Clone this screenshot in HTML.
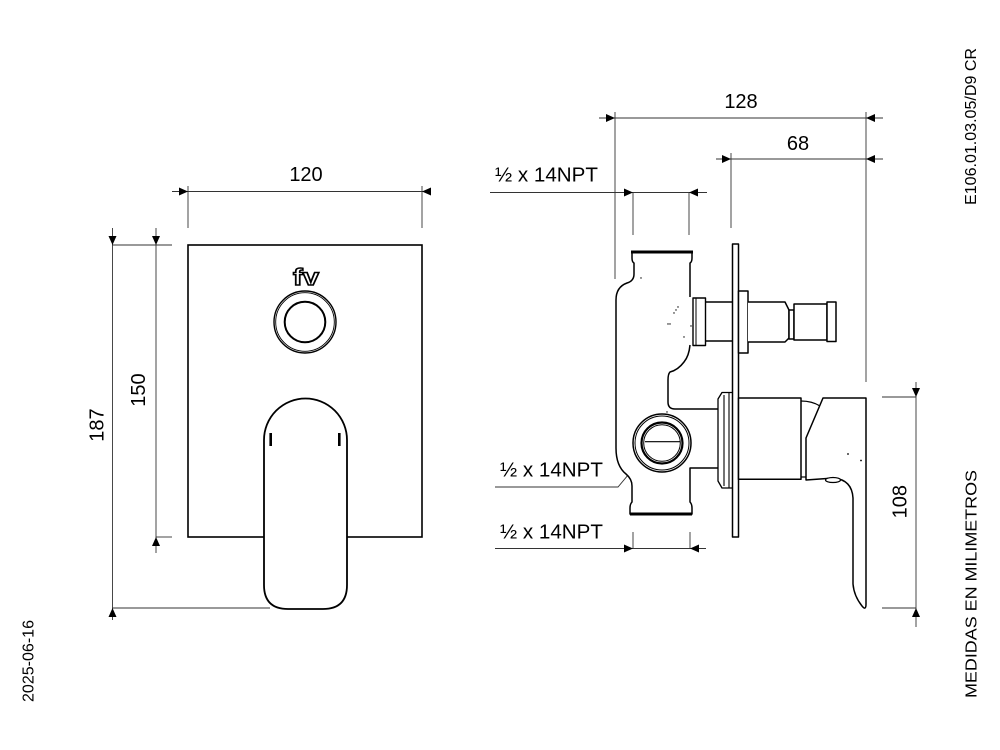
<!DOCTYPE html>
<html><head><meta charset="utf-8"><style>
html,body{margin:0;padding:0;background:#fff;}
svg{display:block;}
text{font-family:"Liberation Sans",Arial,sans-serif;fill:#000;}
</style></head><body>
<svg width="1000" height="750" viewBox="0 0 1000 750" xmlns="http://www.w3.org/2000/svg">
<rect width="1000" height="750" fill="#fff"/>

<!-- ============ DIMENSION LINES (thin) ============ -->
<g stroke="#333" stroke-width="0.9" fill="none">
  <!-- 120 -->
  <line x1="172" y1="191.5" x2="430" y2="191.5"/>
  <line x1="188" y1="186" x2="188" y2="228"/>
  <line x1="422" y1="186" x2="422" y2="228"/>
  <!-- 187 -->
  <line x1="112.5" y1="228" x2="112.5" y2="620"/>
  <line x1="112" y1="245" x2="172" y2="245"/>
  <line x1="112" y1="608" x2="270" y2="608"/>
  <!-- 150 -->
  <line x1="156" y1="228" x2="156" y2="553"/>
  <line x1="156" y1="537" x2="172" y2="537"/>
  <!-- 128 -->
  <line x1="599" y1="118" x2="883" y2="118"/>
  <line x1="615" y1="112" x2="615" y2="279"/>
  <line x1="866" y1="112" x2="866" y2="382"/>
  <!-- 68 -->
  <line x1="716" y1="159" x2="883" y2="159"/>
  <line x1="731" y1="153" x2="731" y2="228"/>
  <!-- NPT top -->
  <line x1="490" y1="192.5" x2="707" y2="192.5"/>
  <line x1="633" y1="192" x2="633" y2="235"/>
  <line x1="689" y1="192" x2="689" y2="235"/>
  <!-- NPT middle leader -->
  <polyline points="495,487 618,487 639,462"/>
  <!-- NPT bottom -->
  <line x1="495" y1="548.5" x2="706" y2="548.5"/>
  <line x1="633" y1="532" x2="633" y2="548"/>
  <line x1="690" y1="532" x2="690" y2="548"/>
  <!-- 108 -->
  <line x1="916" y1="382" x2="916" y2="627"/>
  <line x1="882" y1="397" x2="916" y2="397"/>
  <line x1="882" y1="608" x2="916" y2="608"/>
</g>

<!-- arrowheads -->
<g fill="#000" stroke="none">
  <!-- 120 -->
  <polygon points="188,191.5 179,187.5 179,195.5"/>
  <polygon points="422,191.5 431,187.5 431,195.5"/>
  <!-- 187 -->
  <polygon points="112.5,245 108.5,236 116.5,236"/>
  <polygon points="112.5,608 108.5,617 116.5,617"/>
  <!-- 150 -->
  <polygon points="156,245 152,236 160,236"/>
  <polygon points="156,537 152,546 160,546"/>
  <!-- 128 -->
  <polygon points="615,118 606,114 606,122"/>
  <polygon points="866,118 875,114 875,122"/>
  <!-- 68 -->
  <polygon points="731,159 722,155 722,163"/>
  <polygon points="866,159 875,155 875,163"/>
  <!-- NPT top -->
  <polygon points="633,192.5 624,188.5 624,196.5"/>
  <polygon points="689,192.5 698,188.5 698,196.5"/>
  <!-- NPT bottom -->
  <polygon points="633,548.5 624,544.5 624,552.5"/>
  <polygon points="690,548.5 699,544.5 699,552.5"/>
  <!-- leader arrow -->
  <polygon points="643,457 632,463 638,469"/>
  <!-- 108 -->
  <polygon points="916,397 912,388 920,388"/>
  <polygon points="916,608 912,617 920,617"/>
</g>

<!-- ============ LEFT (FRONT) VIEW ============ -->
<g stroke="#000" fill="none">
  <rect x="188" y="245" width="234" height="292" stroke-width="1.6" fill="#fff"/>
  <!-- ring -->
  <circle cx="305" cy="322" r="31" stroke-width="1.4"/>
  <circle cx="305" cy="322" r="29.3" stroke-width="0.9"/>
  <circle cx="305" cy="322" r="20.3" stroke-width="2"/>
  <!-- handle -->
  <path d="M264,440 A41.5,41.5 0 0 1 347,440 L347,585 Q347,609 323,609 L288,609 Q264,609 264,585 Z" stroke-width="1.8" fill="#fff"/>
  <line x1="270.7" y1="433" x2="270.7" y2="446" stroke-width="2.6"/>
  <line x1="339.3" y1="433" x2="339.3" y2="446" stroke-width="2.6"/>
</g>
<text x="306" y="285" font-size="23" font-weight="bold" text-anchor="middle" textLength="26" lengthAdjust="spacingAndGlyphs" style="fill:#fff;stroke:#000;stroke-width:1.4">fv</text>

<!-- ============ RIGHT (SIDE) VIEW ============ -->
<g stroke="#000" fill="none" stroke-width="1.5" stroke-linejoin="round">
  <!-- body -->
  <path d="M632,252 L632,258 Q632,262 634,263 L634,274 Q634,281 627,283 Q616,287 616,300 L616,448 Q616,466 626,474 Q632,479 632,486 L632,502 Q630,504 630,508 L630,514 L692,514 L692,508 Q692,504 690,502 L690,468 L718,468" fill="#fff"/>
  <path d="M692,252 L692,258 Q692,262 690,263 L690,297"/>
  <path d="M690,345 Q689,356 684,362 Q678,370 670,372 Q668,374 668,380 L668,402 Q668,409 675,409 L718,409"/>
  <line x1="631" y1="252" x2="693" y2="252" stroke-width="3"/>
  <line x1="630" y1="514" x2="692" y2="514" stroke-width="3"/>
  <!-- socket -->
  <rect x="693" y="298" width="12.5" height="47.5" stroke-width="1.4" fill="#fff"/>
  <line x1="696" y1="298" x2="696" y2="345.5" stroke-width="1"/>
  <!-- stem to plate -->
  <path d="M705.5,302 L732.5,302 M705.5,341 L732.5,341"/>
  <!-- outlet ring -->
  <circle cx="662" cy="443" r="29" fill="#fff"/>
  <circle cx="662" cy="443" r="27" stroke-width="1"/>
  <circle cx="662" cy="443" r="20.5" stroke-width="2.2"/>
  <circle cx="662" cy="443" r="18.3" stroke-width="1"/>
  <line x1="645" y1="441.7" x2="680" y2="441.7" stroke-width="1.2"/>
  <!-- bonnet -->
  <path d="M733,392.5 L722,392.5 L718,399 L718,481 L722,488 L733,488" stroke-width="1.3" fill="#fff"/>
  <line x1="724" y1="395" x2="724" y2="486" stroke-width="1.1"/>
  <line x1="729" y1="392.5" x2="729" y2="488" stroke-width="1.1"/>
  <!-- plate -->
  <rect x="732.5" y="244" width="6" height="293" stroke-width="1.5" fill="#fff"/>
  <!-- upper flange & stem -->
  <rect x="738.5" y="291" width="9.5" height="62" fill="#fff"/>
  <path d="M748,302 L785,302 L789,310 L789,338 L785,342 L748,342" fill="#fff"/>
  <rect x="789" y="310" width="5" height="29" fill="#fff"/>
  <rect x="794" y="304" width="33" height="36" fill="#fff"/>
  <rect x="827" y="302" width="9" height="39.5" fill="#fff"/>
  <!-- lever body -->
  <rect x="738.5" y="398" width="62.5" height="81.3" fill="#fff"/>
  <path d="M801,401 Q812,401 820,406" stroke-width="1.3"/>
  <path d="M801,477 L806,477" stroke-width="1.2"/>
  <!-- handle -->
  <path d="M823,398 L866,398 L866,604 Q866,611 862,606 Q854,596 853,584 L853,498 Q852,480 834,478 L806,480 L806,438 Z" fill="#fff"/>
  <ellipse cx="833" cy="480" rx="7.5" ry="2.5" stroke-width="1.2" fill="#fff"/>
</g>
<!-- specks -->
<g fill="#000">
  <circle cx="848" cy="454" r="0.9"/>
  <circle cx="861" cy="460.5" r="0.9"/>
  <circle cx="641" cy="278" r="0.7"/>
  <circle cx="678" cy="307" r="0.7"/>
  <circle cx="676" cy="310" r="0.7"/>
  <circle cx="674" cy="313" r="0.7"/>
  <circle cx="668" cy="324" r="0.7"/>
  <circle cx="670" cy="324" r="0.7"/>
  <circle cx="691" cy="326" r="0.7"/>
  <circle cx="684" cy="337" r="0.7"/>
  <circle cx="667" cy="412" r="0.7"/>
</g>

<!-- ============ TEXT ============ -->
<g font-size="20">
  <text x="306" y="181" text-anchor="middle">120</text>
  <text x="741" y="108" text-anchor="middle">128</text>
  <text x="798" y="150" text-anchor="middle">68</text>
  <text x="495" y="181.5" textLength="103" lengthAdjust="spacingAndGlyphs">½ x 14NPT</text>
  <text x="500" y="476.7" textLength="103" lengthAdjust="spacingAndGlyphs">½ x 14NPT</text>
  <text x="500" y="538.3" textLength="103" lengthAdjust="spacingAndGlyphs">½ x 14NPT</text>
  <text transform="translate(103.5,425) rotate(-90)" text-anchor="middle">187</text>
  <text transform="translate(145,390) rotate(-90)" text-anchor="middle">150</text>
  <text transform="translate(906.7,501.7) rotate(-90)" text-anchor="middle">108</text>
</g>
<g font-size="15.5">
  <text transform="translate(976,126.5) rotate(-90)" text-anchor="middle" textLength="157" lengthAdjust="spacingAndGlyphs">E106.01.03.05/D9 CR</text>
  <text transform="translate(976.5,584) rotate(-90)" text-anchor="middle" textLength="228" lengthAdjust="spacingAndGlyphs">MEDIDAS EN MILIMETROS</text>
  <text transform="translate(33.5,661) rotate(-90)" text-anchor="middle" textLength="82" lengthAdjust="spacingAndGlyphs">2025-06-16</text>
</g>
</svg>
</body></html>
